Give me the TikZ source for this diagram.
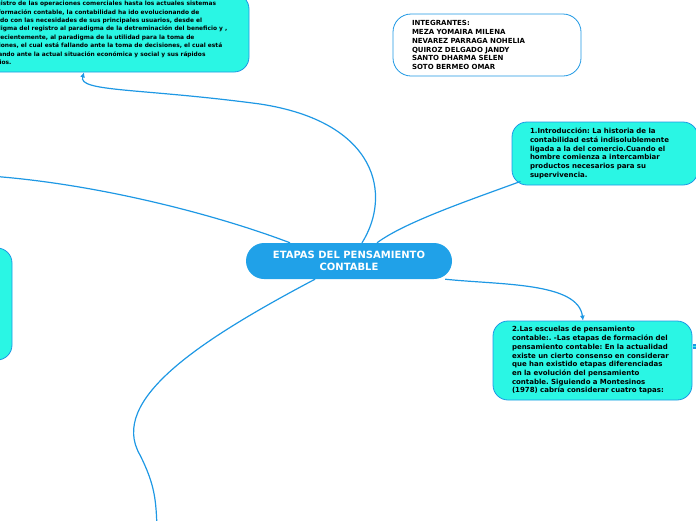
\documentclass[tikz,border=0pt]{standalone}
\usepackage{fontspec}
\setmainfont{DejaVu Sans}
\usepackage{tikz}
\usetikzlibrary{arrows.meta}
\definecolor{linkblue}{RGB}{30, 152, 228}
\definecolor{topicblue}{RGB}{32, 161, 232}
\definecolor{subcyan}{RGB}{42, 246, 228}
\frenchspacing

\begin{document}
\begin{tikzpicture}[x=1pt, y=-1pt,
  subtopic/.style={draw=linkblue, fill=subcyan, line width=0.8pt, rounded corners=15pt,
    align=left, inner ysep=0pt, font=\fontsize{7}{8.7}\selectfont\bfseries},
  maintopic/.style={draw=none, fill=topicblue, rounded corners=18pt, text=white,
    align=center, minimum width=206pt, minimum height=36pt, inner sep=0pt,
    font=\fontsize{10}{12}\selectfont\bfseries},
  members/.style={draw=linkblue, fill=white, line width=0.8pt, rounded corners=18pt,
    align=left, inner ysep=0pt, font=\fontsize{7}{8.9}\selectfont\bfseries},
  link/.style={draw=linkblue, line width=1.2pt}]
\useasboundingbox (0,0) rectangle (696,520);
\node[maintopic] (etapas) at (349,261) {ETAPAS DEL PENSAMIENTO\\CONTABLE};
\node[subtopic, minimum width=289pt, minimum height=78pt, font=\fontsize{5.9}{8.45}\selectfont\bfseries] (historia) at (104.5,33)
  {el registro de las operaciones comerciales hasta los actuales sistemas\\
   de información contable, la contabilidad ha ido evolucionando de\\
   acuerdo con las necesidades de sus principales usuarios, desde el\\
   paradigma del registro al paradigma de la detreminación del beneficio y ,\\
   más recientemente, al paradigma de la utilidad para la toma de\\
   decisiones, el cual está fallando ante la toma de decisiones, el cual está\\
   quedando ante la actual situación económica y social y sus rápidos\\
   cambios.};
\node[members, text width=150pt, inner xsep=19pt, minimum height=62pt] (integrantes) at (487,45)
  {INTEGRANTES:\\
   MEZA YOMAIRA MILENA\\
   NEVAREZ PARRAGA NOHELIA\\
   QUIROZ DELGADO JANDY\\
   SANTO DHARMA SELEN\\
   SOTO BERMEO OMAR};
\node[subtopic, text width=150pt, inner xsep=18pt, minimum height=63pt] (intro) at (605,153.5)
  {1.Introducción: La historia de la\\
   contabilidad está indisolublemente\\
   ligada a la del comercio.Cuando el\\
   hombre comienza a intercambiar\\
   productos necesarios para su\\
   supervivencia.};
\node[subtopic, text width=161pt, inner xsep=19pt, minimum height=79pt] (escuelas) at (592.5,360.5)
  {2.Las escuelas de pensamiento\\
   contable:. -Las etapas de formación del\\
   pensamiento contable: En la actualidad\\
   existe un cierto consenso en considerar\\
   que han existido etapas diferenciadas\\
   en la evolución del pensamiento\\
   contable. Siguiendo a Montesinos\\
   (1978) cabría considerar cuatro tapas:};
\node[subtopic, minimum width=112pt, minimum height=112pt] (izquierda) at (-44,304) {};
\fill[linkblue] (693,344) rectangle (697,349);
\fill[subcyan] (693,346) rectangle (697,347);
\coordinate (fueraizq) at (-10,176);
\coordinate (fueraabajo) at (157,528);
\draw[link, -{Latex[length=5pt, width=5pt]}] ([xshift=13pt]etapas.north)
  .. controls (392,195) and (378,122) .. (260,104)
  .. controls (140,88) and (78,92) .. ([xshift=-20.5pt]historia.south);
\draw[link] ([xshift=28pt]etapas.north) .. controls (405,222) and (470,200) .. ([xshift=9pt, yshift=4pt]intro.south west);
\draw[link, -{Latex[length=5pt, width=5pt]}] ([xshift=-7pt]etapas.south east)
  .. controls (500,285) and (578,282) .. ([xshift=-9.5pt]escuelas.north);
\draw[link] ([xshift=-59pt]etapas.north) .. controls (220,216) and (100,184) .. (fueraizq);
\draw[link] ([xshift=-34pt]etapas.south)
  .. controls (200,340) and (108,400) .. (140,455)
  .. controls (155,485) and (156,500) .. (fueraabajo);
\end{tikzpicture}
\end{document}
